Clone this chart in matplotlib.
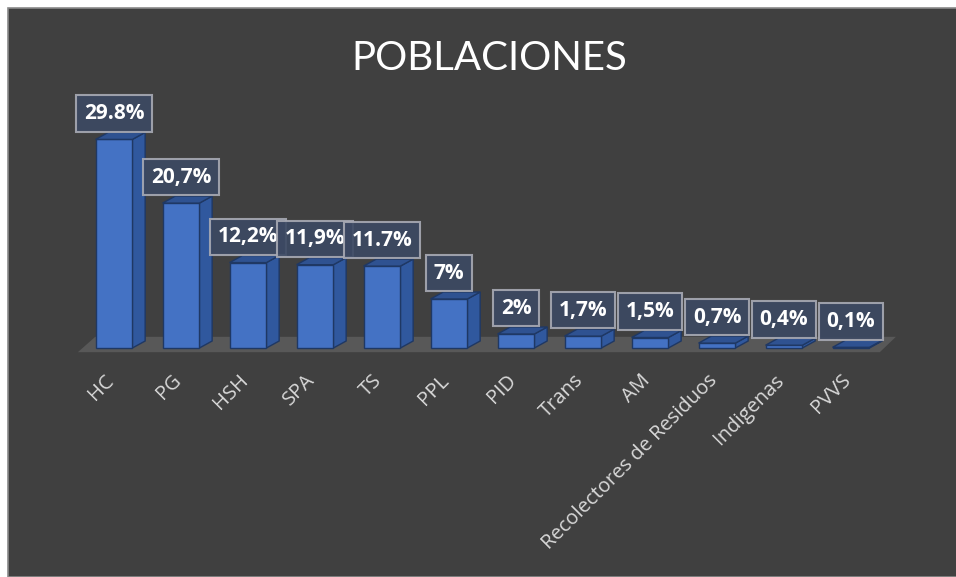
#!/usr/bin/env python3
"""POBLACIONES: pseudo-3D column chart on a dark background."""
import matplotlib
matplotlib.use("Agg")
import matplotlib.pyplot as plt
from matplotlib.patches import Polygon, Rectangle

CATEGORIES = ["HC", "PG", "HSH", "SPA", "TS", "PPL", "PID", "Trans", "AM",
              "Recolectores de Residuos", "Indigenas", "PVVS"]
VALUES = [29.8, 20.7, 12.2, 11.9, 11.7, 7, 2, 1.7, 1.5, 0.7, 0.4, 0.1]
LABELS = ["29.8%", "20,7%", "12,2%", "11,9%", "11.7%", "7%", "2%", "1,7%",
          "1,5%", "0,7%", "0,4%", "0,1%"]
TITLE = "POBLACIONES"

BG = "#404040"
FRONT = "#4472C4"
SIDE = "#30589e"
TOP = "#2f5291"
EDGE = "#1f3864"
FLOOR = "#585858"
LABEL_BOX = "#3c4963"
LABEL_EDGE = "#a8aab4"
TICK = "#d9d9d9"

W, H = 956, 577
BAR_W = 0.55
DX, DY = 0.19, 1.0   # depth of the 3D effect (x in categories, y in %)


def main():
    plt.rcParams["font.family"] = ["Open Sans", "DejaVu Sans"]
    fig = plt.figure(figsize=(W / 100, H / 100), dpi=100)
    fig.patch.set_facecolor("white")
    fig.patches.append(Rectangle((8 / W, 0), 1, 1 - 8 / H, transform=fig.transFigure,
                                 facecolor=BG, edgecolor="#8a8a8a", lw=1.2, zorder=-10))

    ax = fig.add_axes([0, 0, 1, 1])
    ax.set_zorder(1)
    ax.set_facecolor("none")
    # 1 category = 67 px, 1 % = 7 px; baseline at y=348 px
    ax.set_xlim((0 - 114) / 67, (W - 114) / 67)
    ax.set_ylim((348 - H) / 7, 348 / 7)
    ax.axis("off")

    n = len(VALUES)
    # floor
    floor = Polygon([(-0.54, -0.6), (n - 0.57, -0.6), (n - 0.33, 1.6), (-0.28, 1.6)],
                    closed=True, facecolor=FLOOR, edgecolor="none", zorder=1)
    ax.add_patch(floor)

    x = list(range(n))
    ax.bar(x, VALUES, width=BAR_W, color=FRONT, edgecolor=EDGE, lw=1.0, zorder=3)
    h = BAR_W / 2
    for i, v in zip(x, VALUES):
        side = [(i + h, 0), (i + h + DX, DY), (i + h + DX, v + DY), (i + h, v)]
        top = [(i - h, v), (i + h, v), (i + h + DX, v + DY), (i - h + DX, v + DY)]
        ax.add_patch(Polygon(side, closed=True, facecolor=SIDE, edgecolor=EDGE,
                             lw=1.0, zorder=2))
        ax.add_patch(Polygon(top, closed=True, facecolor=TOP, edgecolor=EDGE,
                             lw=1.0, zorder=4))

    for i, (v, lab) in enumerate(zip(VALUES, LABELS)):
        ax.annotate(lab, xy=(i, v + DY), xytext=(0, 6), textcoords="offset points",
                    ha="center", va="bottom", color="white", fontsize=15,
                    fontweight="bold", zorder=6,
                    bbox=dict(boxstyle="square,pad=0.37", facecolor=LABEL_BOX,
                              edgecolor=LABEL_EDGE, lw=1.5, alpha=0.9))

    for i, cat in enumerate(CATEGORIES):
        ax.text(i - 0.15, -3.2, cat, rotation=45, rotation_mode="anchor", ha="right",
                va="top", color=TICK, fontsize=14.5, zorder=5)

    fig.text(489 / W, 1 - 59 / H, TITLE, ha="center", va="center",
             color="white", fontsize=29, fontfamily=["Lato", "DejaVu Sans"],
             fontweight="normal", zorder=5)

    fig.savefig("out.png", dpi=100, facecolor=fig.get_facecolor())


if __name__ == "__main__":
    main()
